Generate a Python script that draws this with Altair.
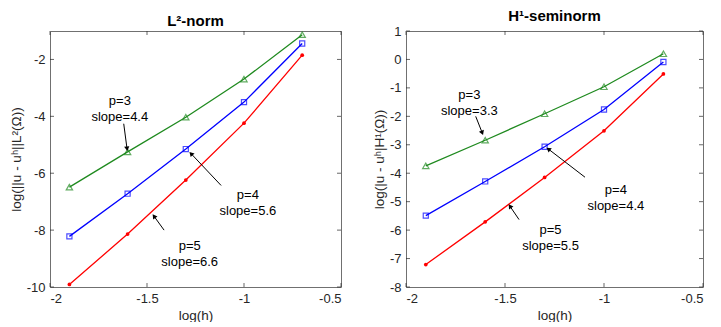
import math
import altair as alt
import pandas as pd

# ---------------- data ----------------
log_h = [-1.9, -1.6, -1.3, -1.0, -0.7]

l2_p3 = [-6.49, -5.25, -4.03, -2.69, -1.13]
l2_p4 = [-8.22, -6.72, -5.15, -3.50, -1.44]
l2_p5 = [-9.91, -8.14, -6.24, -4.24, -1.85]

h1_p3 = [-3.74, -2.84, -1.91, -0.96, 0.20]
h1_p4 = [-5.49, -4.29, -3.07, -1.76, -0.09]
h1_p5 = [-7.21, -5.71, -4.15, -2.51, -0.51]

series_names = ["p=3", "p=4", "p=5"]
series_colors = ["#1f8a1f", "#0000ff", "#ff0000"]

# annotations: text position, arrow tail, arrow head (data coordinates)
l2_ann_text = ["p=3\nslope=4.4", "p=4\nslope=5.6", "p=5\nslope=6.6"]
l2_ann_tx = [-1.64, -0.98, -1.28]
l2_ann_ty = [-3.45, -6.75, -8.55]
l2_arrow_x1 = [-1.62, -1.118, -1.412]
l2_arrow_y1 = [-4.26, -6.43, -8.00]
l2_arrow_x2 = [-1.603, -1.273, -1.464]
l2_arrow_y2 = [-5.14, -5.31, -7.51]

h1_ann_text = ["p=3\nslope=3.3", "p=4\nslope=4.4", "p=5\nslope=5.5"]
h1_ann_tx = [-1.68, -0.94, -1.27]
h1_ann_ty = [-1.25, -4.6, -6.0]
h1_arrow_x1 = [-1.648, -1.096, -1.429]
h1_arrow_y1 = [-2.00, -4.14, -5.63]
h1_arrow_x2 = [-1.615, -1.281, -1.475]
h1_arrow_y2 = [-2.58, -3.15, -5.16]

x_ticks = [-2, -1.5, -1, -0.5]
l2_y_ticks = [-10, -8, -6, -4, -2]
h1_y_ticks = [-8, -7, -6, -5, -4, -3, -2, -1, 0, 1]

FONT = "Liberation Sans"
TXT = "#262626"
H = 256


def panel(title, ytitle, ys, ydom, yticks, W, ann_text, tx, ty, ax1, ay1, ax2, ay2):
    rows = []
    for name, vals in zip(series_names, ys):
        for x, y in zip(log_h, vals):
            rows.append({"x": x, "y": y, "s": name})
    df = pd.DataFrame(rows)
    xs = alt.Scale(domain=[-2, -0.5], nice=False, zero=False)
    ysc = alt.Scale(domain=ydom, nice=False, zero=False)
    common = dict(labelExpr="datum.value + ''", labelOverlap=False, grid=False,
                  ticks=False, tickSize=0, domain=False, labelFont=FONT, labelFontSize=13,
                  labelColor=TXT, titleFont=FONT, titleFontSize=13.5,
                  titleFontWeight="normal", titleColor=TXT, labelPadding=5)
    xaxis = alt.Axis(values=x_ticks, title="log(h)", titlePadding=3, **common)
    yaxis = alt.Axis(values=yticks, title=ytitle, titlePadding=3, **common)
    color = alt.Color("s:N", scale=alt.Scale(domain=series_names, range=series_colors), legend=None)

    def X(f):
        return alt.X(f, scale=xs, axis=xaxis)

    def Y(f):
        return alt.Y(f, scale=ysc, axis=yaxis)

    base = alt.Chart(df)
    line = base.mark_line(strokeWidth=1.3).encode(x=X("x:Q"), y=Y("y:Q"), color=color)
    tri = base.transform_filter("datum.s == 'p=3'").mark_point(
        shape="triangle-up", size=40, filled=False, strokeWidth=1.2, color=series_colors[0]
    ).encode(x=X("x:Q"), y=Y("y:Q"))
    sq = base.transform_filter("datum.s == 'p=4'").mark_point(
        shape="square", size=26, filled=False, strokeWidth=1.2, color=series_colors[1]
    ).encode(x=X("x:Q"), y=Y("y:Q"))
    dot = base.transform_filter("datum.s == 'p=5'").mark_point(
        shape="circle", size=14, filled=True, opacity=1, color=series_colors[2]
    ).encode(x=X("x:Q"), y=Y("y:Q"))

    # annotations
    sx = W / 1.5
    sy = H / (ydom[1] - ydom[0])
    angles = []
    for a, b, c, d in zip(ax1, ay1, ax2, ay2):
        dx = (c - a) * sx
        dyu = (d - b) * sy
        angles.append(math.degrees(math.atan2(dx, dyu)) % 360)
    adf = pd.DataFrame({"t": ann_text, "tx": tx, "ty": ty, "x1": ax1, "y1": ay1,
                        "x2": ax2, "y2": ay2, "ang": angles})
    abase = alt.Chart(adf)
    txt = abase.mark_text(fontSize=13, font=FONT, color="black", lineBreak="\n",
                          lineHeight=16, align="center", baseline="middle").encode(
        x=X("tx:Q"), y=Y("ty:Q"), text="t:N")
    arr = abase.mark_rule(color="black", strokeWidth=1).encode(
        x=X("x1:Q"), y=Y("y1:Q"), x2="x2:Q", y2="y2:Q")
    head = abase.mark_point(shape="triangle-up", filled=True, color="black", size=28,
                            opacity=1).encode(
        x=X("x2:Q"), y=Y("y2:Q"), angle=alt.Angle("ang:Q", scale=None))

    # inward ticks
    xt = alt.Chart(pd.DataFrame({"v": x_ticks}))
    yt = alt.Chart(pd.DataFrame({"v": yticks}))
    tk = dict(color=TXT, strokeWidth=0.7)
    tb = xt.mark_rule(**tk).encode(x=X("v:Q"), y=alt.value(H), y2=alt.value(H - 4))
    tt = xt.mark_rule(**tk).encode(x=X("v:Q"), y=alt.value(0), y2=alt.value(4))
    tl = yt.mark_rule(**tk).encode(y=Y("v:Q"), x=alt.value(0), x2=alt.value(4))
    tr = yt.mark_rule(**tk).encode(y=Y("v:Q"), x=alt.value(W), x2=alt.value(W - 4))

    return alt.layer(line, tri, sq, dot, arr, head, txt, tb, tt, tl, tr).properties(
        width=W, height=H,
        title=alt.TitleParams(title, font=FONT, fontSize=15, fontWeight="bold",
                              color="black", offset=1))


left = panel("L²-norm", "log(||u - uʰ||L²(Ω))", [l2_p3, l2_p4, l2_p5], [-10, -1],
             l2_y_ticks, 291, l2_ann_text, l2_ann_tx, l2_ann_ty,
             l2_arrow_x1, l2_arrow_y1, l2_arrow_x2, l2_arrow_y2)
right = panel("H¹-seminorm", "log(|u - uʰ|H¹(Ω))", [h1_p3, h1_p4, h1_p5], [-8, 1],
              h1_y_ticks, 297, h1_ann_text, h1_ann_tx, h1_ann_ty,
              h1_arrow_x1, h1_arrow_y1, h1_arrow_x2, h1_arrow_y2)

chart = alt.hconcat(left, right, spacing=29).properties(
    padding={"left": 0, "top": 0, "right": 0, "bottom": 0}
).configure_view(stroke="#707070", strokeWidth=1)

chart.save("out.html", embed_options={"renderer": "svg", "actions": False})
